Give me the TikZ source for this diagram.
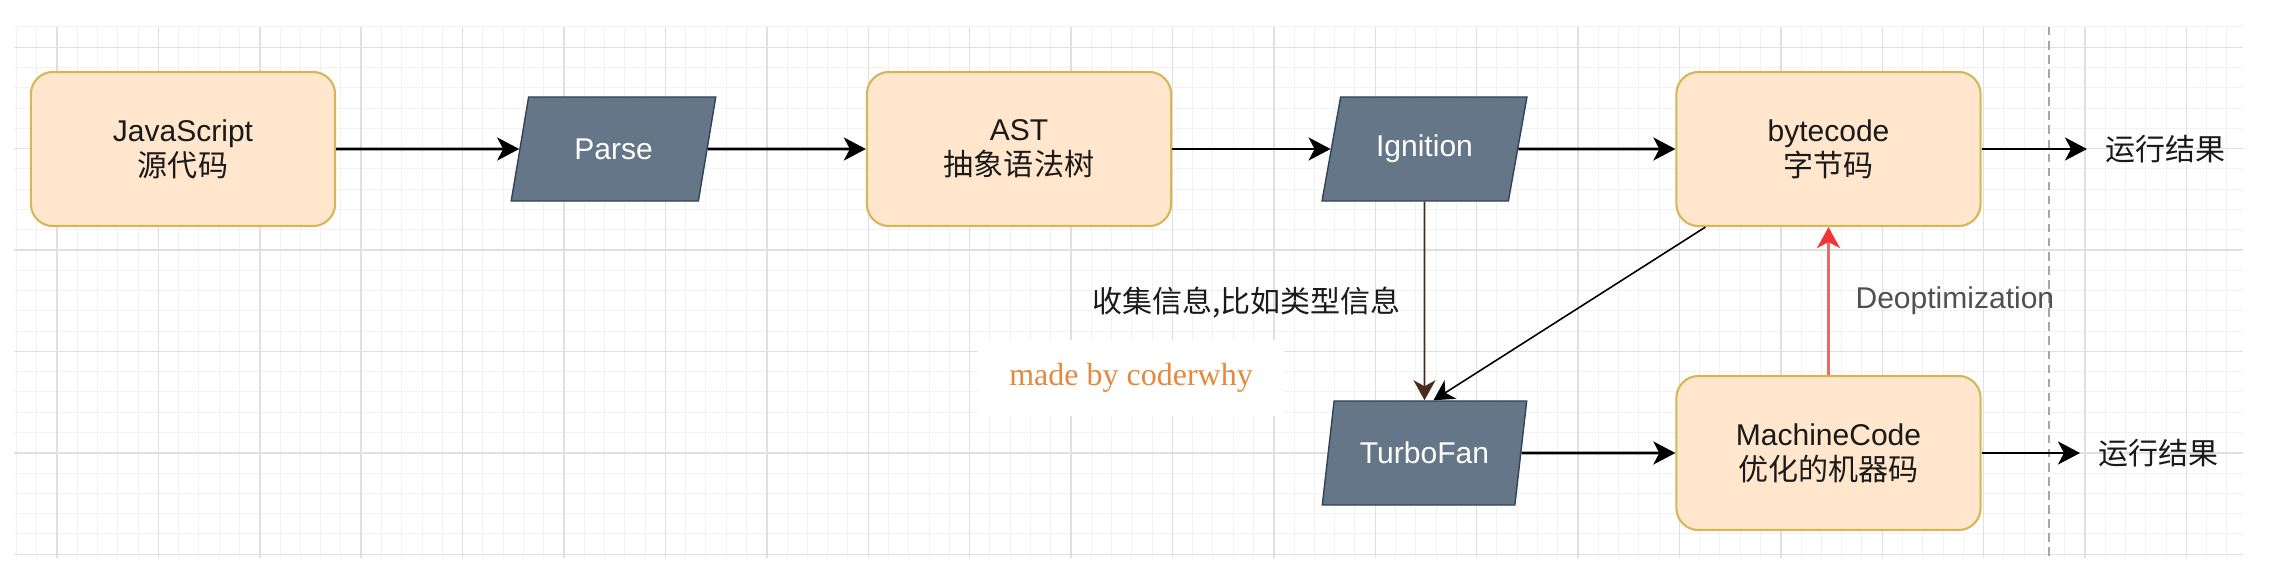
\documentclass[tikz,border=0pt]{standalone}
\usepackage{fontspec}
\setmainfont{Liberation Sans}
\newfontfamily\cjk{Noto Sans CJK SC}
\newfontfamily\markfont{Liberation Serif}
\usetikzlibrary{shapes.geometric,arrows.meta,positioning}
\definecolor{boxfill}{HTML}{FFE6CC}
\definecolor{boxline}{HTML}{D6B656}
\definecolor{slate}{HTML}{647687}
\definecolor{slateline}{HTML}{314354}
\definecolor{deoptline}{HTML}{EA6B66}
\definecolor{deopthead}{HTML}{F03535}
\definecolor{labelgray}{HTML}{505050}
\definecolor{markorange}{HTML}{E38A3F}
\definecolor{brownline}{HTML}{4A2C1D}
\definecolor{gridmajor}{HTML}{E0E0E0}
\definecolor{gridminor}{HTML}{F2F2F2}
\definecolor{inktext}{HTML}{1A1A1A}
\tikzset{
    txt/.style={font=\fontsize{8.54}{9.96}\selectfont},
    stagebox/.style={txt,draw=boxline,fill=boxfill,line width=0.6pt,rounded corners=0.22cm,
        minimum width=3.04cm,minimum height=1.54cm,align=center,text=inktext},
    engine/.style={txt,trapezium,trapezium left angle=69,trapezium right angle=111,
        trapezium stretches=true,minimum width=2.05cm,minimum height=1.04cm,inner sep=0pt,
        fill=slate,draw=slateline,line width=0.4pt,text=white},
    result/.style={txt,anchor=west,inner xsep=0.18cm,inner ysep=0pt,text=inktext},
    flow/.style={line width=0.8pt,-{Stealth[length=0.22cm,width=0.23cm,inset=0.06cm]}},
    thinflow/.style={line width=0.45pt,-{Stealth[length=0.2cm,width=0.22cm,inset=0.06cm]}},
    gridline/.style={line width=0.3pt,gridminor},
    gridbold/.style={line width=0.4pt,gridmajor}
}
\begin{document}
\begin{tikzpicture}[x=0.01cm,y=-0.01cm]
    \useasboundingbox (0,0) rectangle (2274,578);
    % background grid
    \foreach \i in {-2,...,107}
        \draw[gridline] ({57+20.28*\i},27) -- ({57+20.28*\i},558);
    \foreach \j in {-1,...,25}
        \draw[gridline] (14,{47.2+20.28*\j}) -- (2243,{47.2+20.28*\j});
    \foreach \i in {0,...,21}
        \draw[gridbold] ({57+101.4*\i},27) -- ({57+101.4*\i},558);
    \foreach \j in {0,...,5}
        \draw[gridbold] (14,{47.2+101.4*\j}) -- (2243,{47.2+101.4*\j});
    \draw[gray!70,line width=0.4pt,dash pattern=on 2.4pt off 1.6pt] (2049,27) -- (2049,558);

    % stages
    \node[stagebox] (js) at (183,149) {JavaScript\\{\cjk 源代码}};
    \node[engine] (parse) at (613.5,149) {Parse};
    \node[stagebox] (ast) at (1019,149) {AST\\{\cjk 抽象语法树}};
    \node[engine] (ign) at (1424.5,149) {Ignition};
    \node[stagebox] (byte) at (1828.5,149) {bytecode\\{\cjk 字节码}};
    \node[result] (res1) at (2087,149) {\cjk 运行结果};
    \node[engine] (turbo) at (1424.5,453) {TurboFan};
    \node[stagebox] (mc) at (1828.5,453) {MachineCode\\{\cjk 优化的机器码}};
    \node[result] (res2) at (2080,453) {\cjk 运行结果};
    \node[fill=white,minimum width=3.05cm,minimum height=0.75cm,text=markorange,
        font=\markfont\fontsize{9.1}{10}\selectfont] (mark) at (1131,378) {made by coderwhy};

    % connectors
    \draw[flow] (js) -- (parse);
    \draw[flow] (parse) -- (ast);
    \draw[flow] (ast) -- (ign);
    \draw[flow] (ign) -- (byte);
    \draw[flow] (byte) -- (res1);
    \draw[flow] (turbo) -- (mc);
    \draw[flow] (mc) -- (res2);
    \draw[thinflow,brownline] (ign.south) -- (turbo.north)
        node[pos=0.51,left=0.23cm,inner sep=0pt,txt,text=inktext] {\cjk 收集信息,比如类型信息};
    \draw[thinflow] ([xshift=0.3cm]byte.south west) -- ([xshift=0.09cm]turbo.north);
    \draw[deoptline,line width=0.6pt,-{Stealth[length=0.21cm,width=0.23cm,inset=0.06cm,color=deopthead]}]
        (mc.north) -- (byte.south)
        node[pos=0.5,right=0.26cm,inner sep=0pt,txt,text=labelgray] {Deoptimization};
\end{tikzpicture}
\end{document}
